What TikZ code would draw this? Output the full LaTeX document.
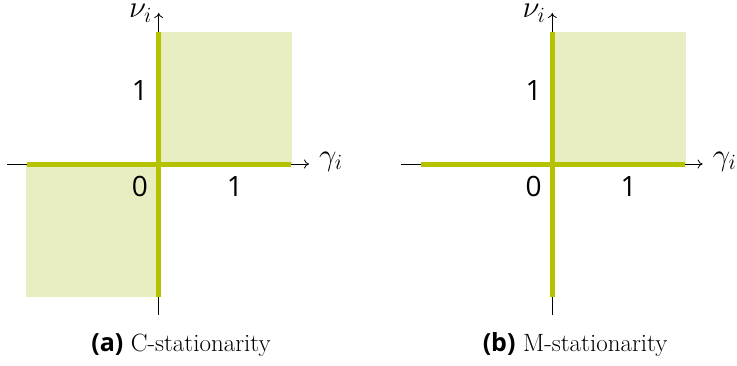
\RequirePackage{fix-cm}
\documentclass[tikz,border=0pt]{standalone}
\usepackage{fontspec}
\newfontfamily\labsans{Open Sans}
\usetikzlibrary{arrows.meta}
\definecolor{limeline}{RGB}{181,194,0}
\definecolor{limefill}{RGB}{233,238,194}
\tikzset{
  axisline/.style={-{To[length=5pt,width=9pt]}, line width=0.8pt, black},
  feasline/.style={draw=limeline, line width=5pt},
  feasfill/.style={fill=limefill},
  ticklab/.style={anchor=base, inner sep=0pt, font=\labsans\fontsize{28}{32}\selectfont},
  mathlab/.style={inner sep=0pt, font=\fontsize{31}{36}\selectfont},
  caplab/.style={anchor=base, inner sep=0pt, font=\fontsize{25}{30}\selectfont}
}
\begin{document}
\begin{tikzpicture}[x=1pt,y=-1pt]
\useasboundingbox (0,0) rectangle (737,365);
% ---------- panel (a)
\coordinate (aO) at (158.7,164);
\coordinate (aL) at (7,164);
\coordinate (aR) at (309,164);
\coordinate (aB) at (158.7,315);
\coordinate (aT) at (158.7,13);
\coordinate (aGL) at (27,164);
\coordinate (aGR) at (291,164);
\coordinate (aGT) at (158.7,32);
\coordinate (aGB) at (158.7,297);
\fill[feasfill] (aGT) rectangle (292,164);
\fill[feasfill] (26,164) rectangle (aGB);
\draw[axisline] (aL) -- (aR);
\draw[axisline] (aB) -- (aT);
\draw[feasline] (aGL) -- (aGR);
\draw[feasline] (aGT) -- (aGB);
\node[mathlab, anchor=base east] (anu) at (152,17.5) {$\nu_i$};
\node[mathlab, anchor=base west] (agam) at (319,165) {$\gamma_i$};
\node[ticklab] (ay1) at (140,100) {1};
\node[ticklab] (a0) at (140,196) {0};
\node[ticklab] (ax1) at (235,196) {1};
\node[caplab] (acap) at (181,351) {{\labsans\bfseries (a)} C-stationarity};
% ---------- panel (b)
\begin{scope}[xshift=393.6pt]
\coordinate (bO) at (158.7,164);
\coordinate (bL) at (7,164);
\coordinate (bR) at (309,164);
\coordinate (bB) at (158.7,315);
\coordinate (bT) at (158.7,13);
\coordinate (bGL) at (27,164);
\coordinate (bGR) at (291,164);
\coordinate (bGT) at (158.7,32);
\coordinate (bGB) at (158.7,297);
\fill[feasfill] (bGT) rectangle (292,164);
\draw[axisline] (bL) -- (bR);
\draw[axisline] (bB) -- (bT);
\draw[feasline] (bGL) -- (bGR);
\draw[feasline] (bGT) -- (bGB);
\node[mathlab, anchor=base east] (bnu) at (152,17.5) {$\nu_i$};
\node[mathlab, anchor=base west] (bgam) at (319,165) {$\gamma_i$};
\node[ticklab] (by1) at (140,100) {1};
\node[ticklab] (b0) at (140,196) {0};
\node[ticklab] (bx1) at (235,196) {1};
\node[caplab] (bcap) at (181.5,351) {{\labsans\bfseries (b)} M-stationarity};
\end{scope}
\end{tikzpicture}
\end{document}
